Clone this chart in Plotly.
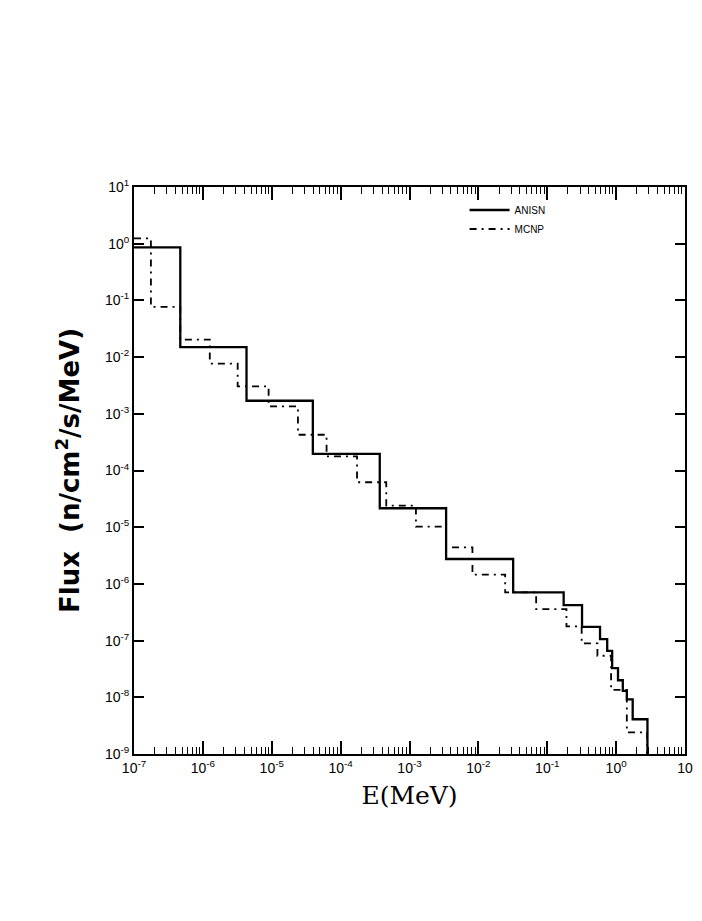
import plotly.graph_objects as go

# ANISN group structure (MeV) and flux values
anisn_edges = [1e-7, 4.7e-7, 4.3e-6, 3.95e-5, 3.7e-4, 3.4e-3, 3.2e-2, 0.173, 0.32,
               0.584, 0.742, 0.876, 1.065, 1.25, 1.43, 1.74, 2.85]
anisn_flux = [0.86, 1.5e-2, 1.7e-3, 1.97e-4, 2.16e-5, 2.75e-6, 7.1e-7, 4.24e-7,
              1.75e-7, 1.06e-7, 6.6e-8, 3.27e-8, 2.0e-8, 1.3e-8, 9.2e-9, 4.1e-9]

# MCNP tally bins (MeV) and flux values
mcnp_edges = [1e-7, 1.76e-7, 4.7e-7, 1.26e-6, 3.2e-6, 9.0e-6, 2.4e-5, 6.25e-5, 1.73e-4,
              4.6e-4, 1.24e-3, 3.4e-3, 8.2e-3, 2.45e-2, 0.069, 0.19, 0.316, 0.535,
              0.845, 1.43, 2.82]
mcnp_flux = [1.24, 0.077, 2.04e-2, 7.7e-3, 3.05e-3, 1.35e-3, 4.27e-4, 1.77e-4, 6.2e-5,
             2.4e-5, 1.02e-5, 4.4e-6, 1.46e-6, 7.1e-7, 3.6e-7, 1.78e-7, 8.9e-8, 5.4e-8,
             1.35e-8, 2.4e-9]

x_tickvals = [1e-7, 1e-6, 1e-5, 1e-4, 1e-3, 1e-2, 1e-1, 1e0, 1e1]
x_ticktext = ["10<sup>-7</sup>", "10<sup>-6</sup>", "10<sup>-5</sup>", "10<sup>-4</sup>",
              "10<sup>-3</sup>", "10<sup>-2</sup>", "10<sup>-1</sup>", "10<sup>0</sup>", "10"]
y_tickvals = [1e1, 1e0, 1e-1, 1e-2, 1e-3, 1e-4, 1e-5, 1e-6, 1e-7, 1e-8, 1e-9]
y_ticktext = ["10<sup>1</sup>", "10<sup>0</sup>", "10<sup>-1</sup>", "10<sup>-2</sup>",
              "10<sup>-3</sup>", "10<sup>-4</sup>", "10<sup>-5</sup>", "10<sup>-6</sup>",
              "10<sup>-7</sup>", "10<sup>-8</sup>", "10<sup>-9</sup>"]
x_minor_vals = [m * d for d in x_tickvals[:-1] for m in range(2, 10)]
Y_FLOOR = 1e-9


def hist_xy(edges, vals):
    xs = list(edges) + [edges[-1]]
    ys = list(vals) + [vals[-1], Y_FLOOR]
    return xs, ys


ax, ay = hist_xy(anisn_edges, anisn_flux)
mx, my = hist_xy(mcnp_edges, mcnp_flux)

fig = go.Figure()
fig.add_trace(go.Scatter(x=ax, y=ay, mode="lines", name="ANISN", line_shape="hv",
                         line=dict(color="black", width=2.3)))
fig.add_trace(go.Scatter(x=mx, y=my, mode="lines", name="MCNP", line_shape="hv",
                         line=dict(color="black", width=1.8, dash="7px,5px,2px,5px")))

tickfont = dict(family="Liberation Sans", size=14, color="black")
fig.update_layout(
    width=702, height=921,
    margin=dict(l=134, r=9, t=187, b=167),
    paper_bgcolor="white", plot_bgcolor="white",
    showlegend=True,
    legend=dict(x=0.6, y=0.985, xanchor="left", yanchor="top",
                bgcolor="rgba(0,0,0,0)", font=dict(family="Liberation Sans", size=10, color="black"),
                tracegroupgap=0, itemwidth=40),
    xaxis=dict(type="log", range=[-7, 1], tickvals=x_tickvals, ticktext=x_ticktext,
               ticks="inside", ticklen=13, tickwidth=1.5, tickcolor="black",
               showline=True, linecolor="black", linewidth=2, mirror="allticks",
               showgrid=False, zeroline=False, tickfont=tickfont,
               minor=dict(tickmode="array", tickvals=x_minor_vals, ticks="inside", ticklen=7,
                          tickwidth=1, tickcolor="black", showgrid=False),
               title=dict(text="E(MeV)", font=dict(family="DejaVu Serif", size=25, color="black"),
                          standoff=12)),
    yaxis=dict(type="log", range=[-9, 1], tickvals=y_tickvals, ticktext=y_ticktext,
               ticks="inside", ticklen=10, tickwidth=2, tickcolor="black",
               showline=True, linecolor="black", linewidth=2, mirror="allticks",
               showgrid=False, zeroline=False, tickfont=tickfont,
               title=dict(text="<b>Flux  (n/cm<sup>2</sup>/s/MeV)</b>",
                          font=dict(family="DejaVu Sans", size=26, color="black"),
                          standoff=18)),
)

fig.write_html("out.html")
